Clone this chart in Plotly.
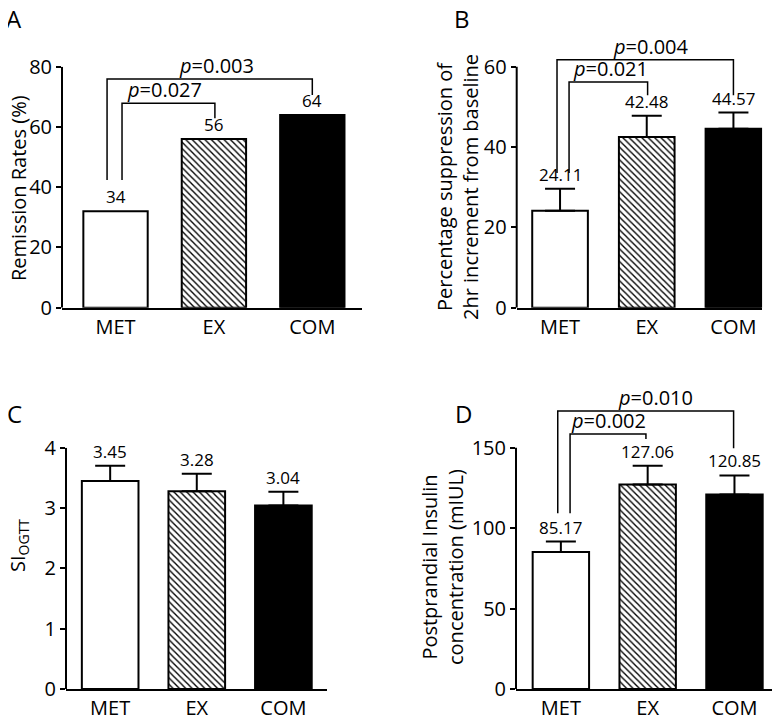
import plotly.graph_objects as go

# ---------------- data ----------------
groups = ["MET", "EX", "COM"]
group_pos = [0, 1, 2]

remission_rate = [32, 56, 64]
remission_text = ["34", "56", "64"]

suppression_mean = [24.11, 42.48, 44.57]
suppression_se = [5.5, 5.3, 4.0]

si_mean = [3.45, 3.28, 3.04]
si_se = [0.25, 0.29, 0.23]

insulin_mean = [85.17, 127.06, 120.85]
insulin_se = [6.5, 11.7, 11.9]

ticks_A = [0, 20, 40, 60, 80]
ticks_B = [0, 20, 40, 60]
ticks_C = [0, 1, 2, 3, 4]
ticks_D = [0, 50, 100, 150]

# brackets: (x_left, x_right, y_top, y_left_bottom, y_right_bottom, p label, label x)
brackets_A = [(-0.086, 2.0, 75.9, 42.4, 70.6, "0.003", 1.03),
              (0.066, 1.01, 67.9, 42.4, 62.9, "0.027", 0.50)]
brackets_B = [(-0.035, 2.0, 61.7, 33.5, 52.9, "0.004", 1.05),
              (0.104, 1.01, 56.2, 33.5, 52.9, "0.021", 0.58)]
brackets_D = [(-0.036, 1.99, 172.8, 109.2, 149.6, "0.010", 1.09),
              (0.106, 0.98, 158.5, 109.2, 155.4, "0.002", 0.55)]

# ---------------- layout helpers ----------------
OFF = 8              # page body margin in the browser
W, H = 780 - OFF, 717 - OFF
FONT = "Open Sans"


def dx(p0, p1):
    return [(p0 - OFF) / W, (p1 - OFF) / W]


def dy(top, bottom):
    return [1 - (bottom - OFF) / H, 1 - (top - OFF) / H]


def px(x):
    return (x - OFF) / W


def py(y):
    return 1 - (y - OFF) / H


bar_colors = ["white", "white", "black"]
bar_patterns = ["", "\\", ""]

fig = go.Figure()

panels = [
    ("A", "x", "y", remission_rate, None, remission_text, (62, 362), (66.7, 307.7), [-0.544, 2.505], [0, 80], ticks_A, 0.654),
    ("B", "x2", "y2", suppression_mean, suppression_se, [f"{v:.2f}" for v in suppression_mean], (516.7, 762.3), (50.6, 307.7), [-0.5, 2.333], [0, 64], ticks_B, 0.642),
    ("C", "x3", "y3", si_mean, si_se, [f"{v:.2f}" for v in si_mean], (66, 326.7), (447.7, 689), [-0.51, 2.5], [0, 4], ticks_C, 0.654),
    ("D", "x4", "y4", insulin_mean, insulin_se, [f"{v:.2f}" for v in insulin_mean], (516, 777), (405.9, 689), [-0.517, 2.49], [0, 176], ticks_D, 0.65),
]

annotations = []
shapes = []

for name, xa, ya, vals, se, labels, xd, yd, xr, yr, ticks, bw in panels:
    for i in range(len(vals)):
        err = None
        if se is not None:
            err = dict(type="data", array=[se[i]], arrayminus=[0], symmetric=False,
                       color="black", thickness=2, width=15)
        marker = dict(color=bar_colors[i], line=dict(color="black", width=2))
        if bar_patterns[i]:
            marker["pattern"] = dict(shape=bar_patterns[i], fgcolor="black", bgcolor="white",
                                     size=4.5, solidity=0.3, fillmode="replace")
        fig.add_trace(go.Bar(
            x=[group_pos[i]], y=[vals[i]], width=bw, xaxis=xa, yaxis=ya,
            marker=marker, error_y=err, showlegend=False, hoverinfo="skip"))

    axn = "" if xa == "x" else xa[1:]
    fig.update_layout(**{
        f"xaxis{axn}": dict(domain=dx(*xd), anchor=ya, range=xr, tickvals=group_pos, ticktext=groups,
                            showline=True, linecolor="black", linewidth=2, ticks="",
                            showgrid=False, zeroline=False, automargin=False,
                            tickfont=dict(family=FONT, size=20, color="black")),
        f"yaxis{axn}": dict(domain=dy(*yd), anchor=xa, range=yr, tickvals=ticks,
                            showline=False, ticks="outside", ticklen=5, tickwidth=2,
                            tickcolor="black", showgrid=False, zeroline=False, automargin=False,
                            tickfont=dict(family=FONT, size=20, color="black")),
    })
    shapes.append(dict(type="line", xref=f"{xa} domain", yref=ya, x0=0, x1=0,
                       y0=ticks[0], y1=ticks[-1], line=dict(color="black", width=2)))
    for i, (v, t) in enumerate(zip(vals, labels)):
        top = v + (se[i] if se is not None else 0)
        annotations.append(dict(x=group_pos[i], y=top, xref=xa, yref=ya, text=t,
                                showarrow=False, yanchor="bottom", yshift=1,
                                font=dict(family=FONT, size=17, color="black")))

for xa, ya, brs in [("x", "y", brackets_A), ("x2", "y2", brackets_B), ("x4", "y4", brackets_D)]:
    for xl, xr_, yt, ylb, yrb, lab, lx in brs:
        shapes.append(dict(type="path", xref=xa, yref=ya,
                           path=f"M {xl},{ylb} L {xl},{yt} L {xr_},{yt} L {xr_},{yrb}",
                           line=dict(color="black", width=1.5)))
        annotations.append(dict(x=lx, y=yt, xref=xa, yref=ya, text=f"<i>p</i>={lab}",
                                showarrow=False, yanchor="bottom", yshift=-2,
                                font=dict(family=FONT, size=20, color="black")))

for letter, lx, ly in [("A", 14, 19), ("B", 462, 19), ("C", 14, 413), ("D", 463, 413)]:
    annotations.append(dict(x=px(lx), y=py(ly), xref="paper", yref="paper", text=letter,
                            showarrow=False, xanchor="center", yanchor="middle",
                            font=dict(family=FONT, size=24, color="black")))

for txt, tx, ty in [("Remission Rates (%)", 18, 188),
                    ("Percentage suppression of<br>2hr increment from baseline", 457, 187),
                    ("SI<sub>OGTT</sub>", 18, 546),
                    ("Postprandial Insulin<br>concentration (mIUL)", 442, 567)]:
    annotations.append(dict(x=px(tx), y=py(ty), xref="paper", yref="paper", text=txt,
                            showarrow=False, textangle=-90, xanchor="center", yanchor="middle",
                            font=dict(family=FONT, size=20, color="black")))

fig.update_layout(width=W, height=H, autosize=False, margin=dict(l=0, r=0, t=0, b=0, pad=0),
                  paper_bgcolor="white", plot_bgcolor="white", barmode="overlay",
                  annotations=annotations, shapes=shapes, showlegend=False)

fig.write_html("out.html")
